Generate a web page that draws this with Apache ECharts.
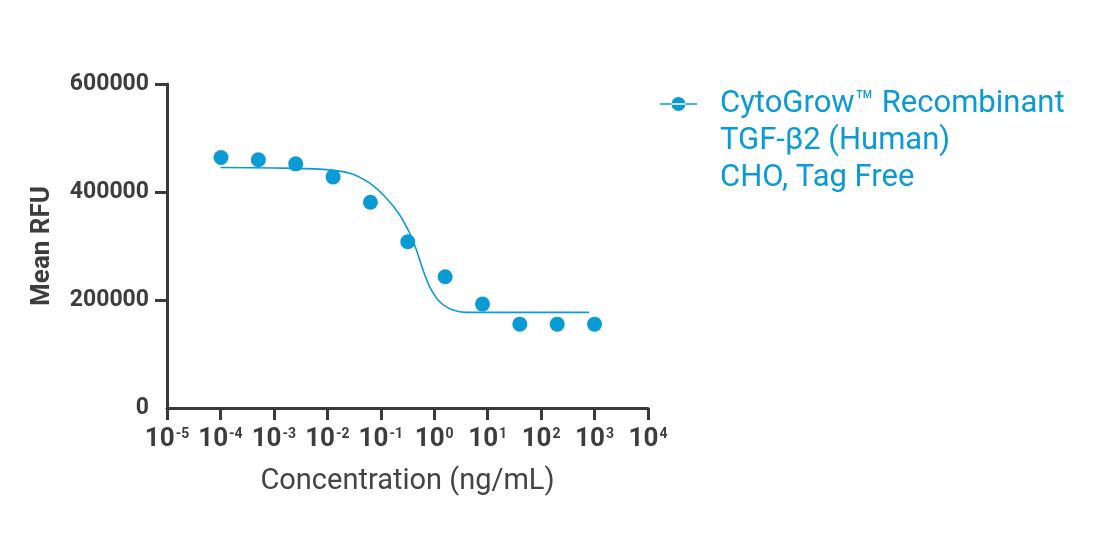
<!DOCTYPE html>
<html>
<head>
<meta charset="utf-8">
<script src="https://cdn.jsdelivr.net/npm/echarts@6/dist/echarts.min.js"></script>
<style>
html,body{margin:0;padding:0;background:#fff;}
#chart{width:1104px;height:534px;}
</style>
</head>
<body>
<div id="chart"></div>
<script>
// Data
const seriesName = 'CytoGrow™ Recombinant\nTGF-β2 (Human)\nCHO, Tag Free';
const concentrations = [0.0001024, 0.000512, 0.00256, 0.0128, 0.064, 0.32, 1.6, 8, 40, 200, 1000];
const meanRFU = [463800, 459600, 452100, 428000, 381000, 308000, 243000, 192400, 155300, 155300, 155300];
// Fitted curve, points
const curveX = [0.0001, 0.001, 0.00719, 0.0262, 0.0621, 0.1276, 0.226, 0.348, 0.465, 0.617, 0.824, 1.268, 2.249, 4.009, 31.6, 794];
const curveY = [445300, 444500, 442300, 434900, 416300, 388500, 357500, 323600, 292600, 255500, 224500, 196700, 181300, 177000, 177000, 177000];
const xTickExponents = [-5, -4, -3, -2, -1, 0, 1, 2, 3, 4];
const yTicks = [0, 200000, 400000, 600000];

const blue = '#0a9bd7';
const axisColor = '#3a3a3a';
const textColor = '#3d3d3d';

const chart = echarts.init(document.getElementById('chart'), null, {renderer: 'canvas'});
chart.setOption({
  animation: false,
  backgroundColor: '#fff',
  textStyle: {fontFamily: 'Roboto'},
  grid: {left: 167, right: 456, top: 84, bottom: 126},
  legend: {
    data: [seriesName],
    left: 660,
    top: 11.5,
    padding: 0,
    itemWidth: 37,
    itemHeight: 14,
    icon: 'path://M0,6.3h37v1.4h-37z M11.5,7a7,7 0 1,0 14,0a7,7 0 1,0 -14,0z',
    selectedMode: false,
    formatter: function (name) { return '\n\n' + name; },
    textStyle: {
      color: blue,
      fontFamily: 'Roboto',
      fontSize: 31,
      lineHeight: 37,
      padding: [0, 0, 0, 18]
    }
  },
  xAxis: {
    type: 'log',
    logBase: 10,
    min: Math.pow(10, xTickExponents[0]),
    max: Math.pow(10, xTickExponents[xTickExponents.length - 1]),
    interval: 1,
    splitNumber: xTickExponents.length - 1,
    name: 'Concentration (ng/mL)',
    nameLocation: 'middle',
    nameGap: 59,
    nameTextStyle: {color: '#444', fontSize: 29, fontFamily: 'Roboto'},
    axisLine: {show: true, lineStyle: {color: axisColor, width: 3}},
    axisTick: {show: true, length: 12, lineStyle: {color: axisColor, width: 3}},
    splitLine: {show: false},
    minorTick: {show: false},
    axisLabel: {
      margin: 18,
      showMinLabel: true,
      showMaxLabel: true,
      formatter: function (v) {
        const e = Math.round(Math.log10(v));
        return '{b|10}{s|' + e + '}';
      },
      rich: {
        b: {fontSize: 26, fontWeight: 'bold', color: textColor, fontFamily: 'Roboto', lineHeight: 26},
        s: {fontSize: 14, fontWeight: 'bold', color: textColor, fontFamily: 'Roboto', lineHeight: 14, verticalAlign: 'top', padding: [1, 0, 0, 1]}
      }
    }
  },
  yAxis: {
    type: 'value',
    min: yTicks[0],
    max: yTicks[yTicks.length - 1],
    interval: yTicks[1] - yTicks[0],
    name: 'Mean RFU',
    nameLocation: 'middle',
    nameGap: 112,
    nameTextStyle: {color: textColor, fontSize: 26, fontWeight: 'bold', fontFamily: 'Roboto'},
    axisLine: {show: true, lineStyle: {color: axisColor, width: 3}},
    axisTick: {show: true, length: 12, lineStyle: {color: axisColor, width: 3}, customValues: yTicks.slice(1)},
    splitLine: {show: false},
    axisLabel: {
      margin: 18,
      color: textColor,
      fontSize: 23,
      fontWeight: 'bold',
      fontFamily: 'Roboto',
      formatter: function (v) { return String(v); }
    }
  },
  series: [
    {
      name: seriesName,
      type: 'line',
      data: curveX.map((x, i) => [x, curveY[i]]),
      showSymbol: false,
      symbol: 'none',
      smooth: 0.3,
      lineStyle: {color: blue, width: 1.6},
      itemStyle: {color: blue},
      z: 2
    },
    {
      name: seriesName,
      type: 'scatter',
      data: concentrations.map((x, i) => [x, meanRFU[i]]),
      symbol: 'circle',
      symbolSize: 15,
      itemStyle: {color: blue, opacity: 1},
      z: 3
    }
  ]
});
</script>
</body>
</html>
